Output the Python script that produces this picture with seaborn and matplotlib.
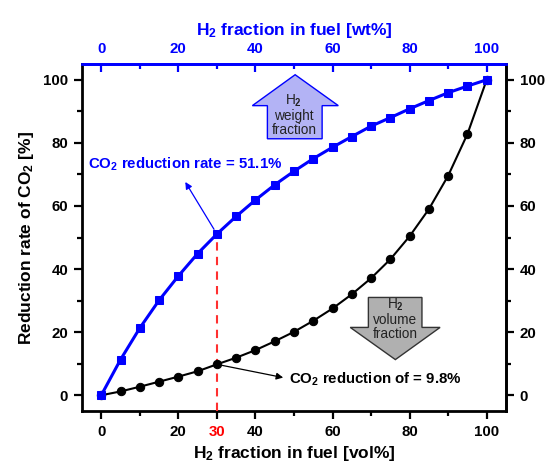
import numpy as np
import pandas as pd
import matplotlib
matplotlib.use("Agg")
import matplotlib.pyplot as plt
from matplotlib.patches import Polygon
import seaborn as sns

h2_vol = [0, 5, 10, 15, 20, 25, 30, 35, 40, 45, 50, 55, 60, 65, 70, 75, 80, 85, 90, 95, 100]
co2_wt_reduction = [0, 11.3, 21.3, 30.1, 37.8, 44.9, 51.1, 56.7, 61.9, 66.7, 71.0, 75.0, 78.6,
                    82.0, 85.3, 88.0, 90.8, 93.4, 95.9, 98.0, 100]
co2_vol_reduction = [0, 1.2, 2.7, 4.3, 5.9, 7.6, 9.8, 11.9, 14.3, 17.1, 20.1, 23.6, 27.5,
                     32.0, 37.1, 43.1, 50.4, 59.0, 69.6, 82.8, 100]
major_ticks = [0, 20, 40, 60, 80, 100]
minor_ticks = [10, 30, 50, 70, 90]

sns.set_style("ticks")
plt.rcParams['font.family'] = ['Liberation Sans', 'DejaVu Sans']
plt.rcParams['font.weight'] = 'bold'
plt.rcParams['text.color'] = 'black'
plt.rcParams['axes.labelcolor'] = 'black'
plt.rcParams['xtick.color'] = 'black'
plt.rcParams['ytick.color'] = 'black'
plt.rcParams['mathtext.fontset'] = 'custom'
plt.rcParams['mathtext.rm'] = 'Liberation Sans:bold'
plt.rcParams['mathtext.bf'] = 'Liberation Sans:bold'
plt.rcParams['mathtext.sf'] = 'Liberation Sans'
plt.rcParams['mathtext.default'] = 'rm'

df = pd.DataFrame({"x": h2_vol, "wt": co2_wt_reduction, "vol": co2_vol_reduction})

fig = plt.figure(figsize=(5.51, 4.72), dpi=100)
ax = fig.add_axes([0.1488, 0.1292, 0.7695, 0.7352])

BLUE = "#0000ff"
sns.lineplot(data=df, x="x", y="vol", ax=ax, color="black", lw=1.5, marker="o",
             markersize=6.0, markeredgecolor="black", markerfacecolor="black", zorder=5)
sns.lineplot(data=df, x="x", y="wt", ax=ax, color=BLUE, lw=2.2, marker="s",
             markersize=6.2, markeredgecolor=BLUE, markerfacecolor=BLUE, zorder=6)

ax.set_xlim(-5, 105)
ax.set_ylim(-5, 105)

# red dashed line at 30 vol%
ax.plot([30, 30], [-5, co2_wt_reduction[6]], color="#ff3030", lw=1.5, ls=(0, (4, 3)), zorder=3)

ax.set_xticks(major_ticks + [30])
ax.set_xticklabels([str(t) for t in major_ticks] + ["30"])
ax.set_xticks(minor_ticks, minor=True)
ax.set_yticks(major_ticks)
ax.set_yticks(minor_ticks, minor=True)
for lbl in ax.get_xticklabels():
    if lbl.get_text() == "30":
        lbl.set_color("red")
ax.tick_params(axis="both", which="major", direction="out", length=6, width=1.6,
               labelsize=10.8, pad=4)
ax.tick_params(axis="both", which="minor", direction="out", length=3.5, width=1.6)
ax.tick_params(axis="y", right=False)
for lbl in ax.get_xticklabels() + ax.get_yticklabels():
    lbl.set_fontweight("bold")

for s in ax.spines.values():
    s.set_linewidth(2)
    s.set_color("black")
ax.spines["top"].set_color(BLUE)

ax.set_xlabel("H$_2$ fraction in fuel [vol%]", fontsize=12.5, fontweight="bold", labelpad=4)
ax.set_ylabel("Reduction rate of CO$_2$ [%]", fontsize=12.5, fontweight="bold", labelpad=5)

# top axis
top = ax.secondary_xaxis("top")
top.set_xticks(major_ticks)
top.set_xticks(minor_ticks, minor=True)
top.tick_params(axis="x", which="major", direction="in", length=6, width=1.6,
                colors=BLUE, labelsize=10.8, pad=6)
top.tick_params(axis="x", which="minor", direction="in", length=3.5, width=1.6, colors=BLUE)
for lbl in top.get_xticklabels():
    lbl.set_fontweight("bold")
top.spines["top"].set_color(BLUE)
top.spines["top"].set_linewidth(2)
top.set_xlabel("H$_2$ fraction in fuel [wt%]", fontsize=12.5, fontweight="bold",
               color=BLUE, labelpad=5)

# right axis
right = ax.secondary_yaxis("right")
right.set_yticks(major_ticks)
right.set_yticks(minor_ticks, minor=True)
right.tick_params(axis="y", which="major", direction="out", length=6, width=1.6,
                  labelsize=10.8, pad=4)
right.tick_params(axis="y", which="minor", direction="out", length=3.5, width=1.6)
for lbl in right.get_yticklabels():
    lbl.set_fontweight("bold")
right.spines["right"].set_linewidth(2)

# annotations
ax.annotate("", xy=(21.8, 67.6), xytext=(30, co2_wt_reduction[6]),
            arrowprops=dict(arrowstyle="-|>", color=BLUE, lw=0.9, mutation_scale=10,
                            shrinkA=4, shrinkB=0), zorder=6)
ax.text(21.8, 73.3, "CO$_2$ reduction rate = 51.1%", color=BLUE, fontsize=10.8,
        fontweight="bold", ha="center", va="center")

ax.annotate("", xy=(47.2, 5.6), xytext=(30, co2_vol_reduction[6]),
            arrowprops=dict(arrowstyle="-|>", color="black", lw=0.9, mutation_scale=10,
                            shrinkA=4, shrinkB=0), zorder=6)
ax.text(48.6, 5.0, "CO$_2$ reduction of = 9.8%", color="black", fontsize=10.8,
        fontweight="bold", ha="left", va="center")

# block arrows
up = Polygon([(50.3, 101.6), (61.5, 91.8), (57.3, 91.8), (57.3, 81.3),
              (43.1, 81.3), (43.1, 91.8), (39.2, 91.8)], closed=True,
             facecolor="#b3b3f5", edgecolor=BLUE, lw=1.0, zorder=4)
ax.add_patch(up)
ax.text(50.0, 89.0, "H$_\\mathsf{2}$\nweight\nfraction", ha="center", va="center",
        fontsize=9.8, fontweight="normal", color="#222222", linespacing=1.0, zorder=6)

down = Polygon([(69.3, 31.0), (83.2, 31.0), (83.2, 21.5), (87.9, 21.5), (76.3, 11.3),
                (64.6, 21.5), (69.3, 21.5)], closed=True,
               facecolor="#b0b0b0", edgecolor="#333333", lw=1.0, zorder=4)
ax.add_patch(down)
ax.text(76.3, 24.3, "H$_\\mathsf{2}$\nvolume\nfraction", ha="center", va="center",
        fontsize=9.8, fontweight="normal", color="#222222", linespacing=1.0, zorder=6)

fig.savefig("out.png", dpi=100)
